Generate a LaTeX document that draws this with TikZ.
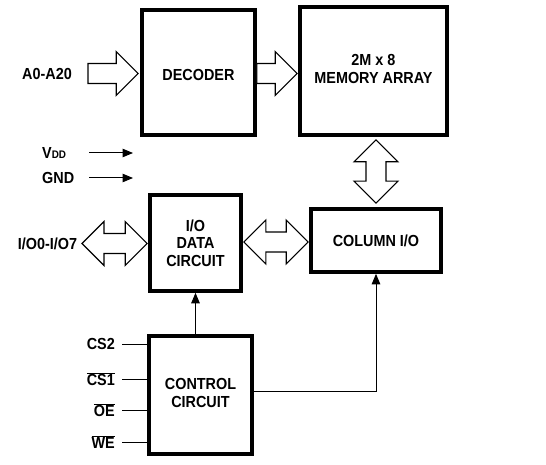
\documentclass[tikz,border=0pt]{standalone}
\usepackage{fontspec}
\setmainfont{Liberation Sans}[FakeStretch=0.9]
\usetikzlibrary{calc,arrows.meta}
\newcommand\ovl[1]{$\overline{\hbox{#1}}$}
\newcommand\sarrowR[2]{\draw[hollow] ($(#1)+(0,-10)$) -- ($(#2)+(-22,-10)$) -- ($(#2)+(-22,-22)$) -- (#2) -- ($(#2)+(-22,22)$) -- ($(#2)+(-22,10)$) -- ($(#1)+(0,10)$) -- cycle;}
\newcommand\darrowH[2]{\draw[hollow] (#1) -- ($(#1)+(22,-22)$) -- ($(#1)+(22,-10)$) -- ($(#2)+(-22,-10)$) -- ($(#2)+(-22,-22)$) -- (#2) -- ($(#2)+(-22,22)$) -- ($(#2)+(-22,10)$) -- ($(#1)+(22,10)$) -- ($(#1)+(22,22)$) -- cycle;}
\newcommand\darrowV[2]{\draw[hollow] (#1) -- ($(#1)+(22,22)$) -- ($(#1)+(10,22)$) -- ($(#2)+(10,-22)$) -- ($(#2)+(22,-22)$) -- (#2) -- ($(#2)+(-22,-22)$) -- ($(#2)+(-10,-22)$) -- ($(#1)+(-10,22)$) -- ($(#1)+(-22,22)$) -- cycle;}
\begin{document}
\begin{tikzpicture}[x=1pt,y=-1pt,
  font=\fontsize{16}{17.5}\selectfont\bfseries,
  blk/.style={draw,line width=3.6pt,align=center,inner sep=0pt},
  hollow/.style={draw,line width=1.1pt,fill=white,line join=miter},
  thin/.style={line width=1pt},
  arr/.style={thin,-{Triangle[length=10.5pt,width=8.5pt]}},
  lbl/.style={inner sep=0pt}]
\useasboundingbox[fill=white] (0,0) rectangle (546,465);
% blocks
\node[blk,minimum width=113pt,minimum height=125pt,text height=16pt,text depth=0pt] (dec) at (198.5,72.5) {DECODER};
\node[blk,minimum width=147pt,minimum height=128pt] (mem) at (373.5,71) {\raisebox{-2pt}{\begin{tabular}{@{}c@{}}2M x 8\\MEMORY ARRAY\end{tabular}}};
\node[blk,minimum width=130pt,minimum height=63pt] (col) at (376,240.5) {COLUMN I/O};
\node[blk,minimum width=91pt,minimum height=96pt] (io) at (195.5,243) {I/O\\DATA\\CIRCUIT};
\node[blk,minimum width=103pt,minimum height=118pt] (ctl) at (200.5,395) {\raisebox{2pt}{\begin{tabular}{@{}c@{}}CONTROL\\CIRCUIT\end{tabular}}};
% labels
\node[lbl] (la) at (47,74) {A0-A20};
\node[lbl,anchor=west] (lvdd) at (42,153) {V{\fontsize{11}{12}\selectfont DD}};
\node[lbl,anchor=west] (lgnd) at (42,178) {GND};
\node[lbl] (lio) at (47.5,244) {I/O0-I/O7};
% address arrow
\coordinate (aTail) at (88,73.5);
\coordinate (aTip) at ($(dec.west |- aTail)+(-2,0)$);
\sarrowR{aTail}{aTip}
\coordinate (dTail) at (dec.east |- aTail);
\coordinate (dTip) at ($(mem.west |- aTail)+(-1,0)$);
\sarrowR{dTail}{dTip}
% memory <-> column
\coordinate (mTop) at ($(mem.south -| col.north)+(0,3)$);
\coordinate (cBot) at ($(col.north)+(0,-4)$);
\darrowV{mTop}{cBot}
% io <-> column
\coordinate (iL) at ($(io.east |- col.west)+(1,1.5)$);
\coordinate (cR) at ($(col.west)+(-1,1.5)$);
\darrowH{iL}{cR}
% external io
\coordinate (eL) at (82,243.5);
\coordinate (eR) at ($(io.west |- eL)+(-1,0)$);
\darrowH{eL}{eR}
% power arrows
\coordinate (vS) at (89,153);
\coordinate (vE) at (133,153);
\coordinate (gS) at (89,178);
\coordinate (gE) at (133,178);
\draw[arr] (vS) -- (vE);
\draw[arr] (gS) -- (gE);
% control inputs
\foreach \n/\y/\t in {cs2/344/CS2, cs1/379/\ovl{CS1}, oe/410/\ovl{OE}, we/442/\ovl{WE}}{
  \coordinate (\n) at (122,\y);
  \node[lbl,anchor=east] (l\n) at ($(\n)+(-7,0)$) {\t};
  \draw[thin] (\n) -- (\n -| ctl.west);
}
% control outputs
\draw[arr] (io.south |- ctl.north) -- (io.south);
\coordinate (cOut) at ($(ctl.east)+(0,-4)$);
\draw[arr] (cOut) -- (cOut -| col.south) -- (col.south);
\end{tikzpicture}
\end{document}
